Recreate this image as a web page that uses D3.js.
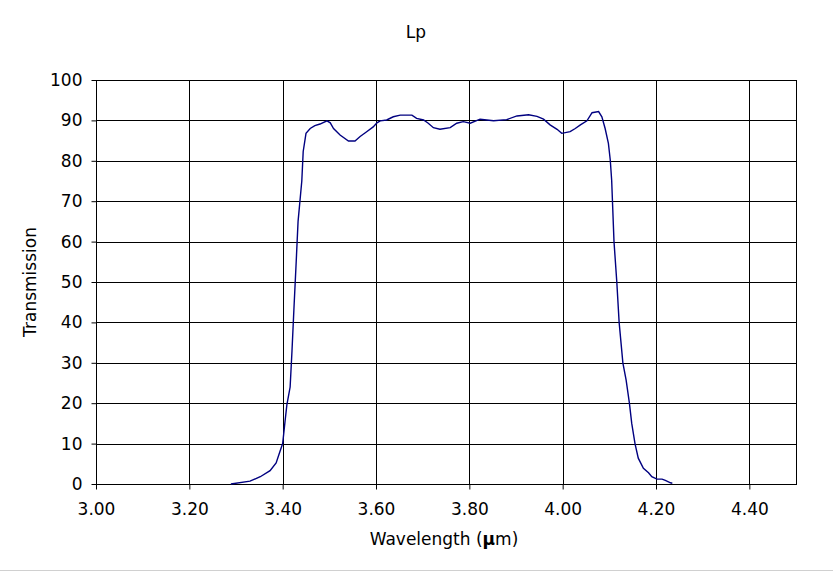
<!DOCTYPE html>
<html>
<head>
<meta charset="utf-8">
<script src="https://cdn.jsdelivr.net/npm/d3@7"></script>
<style>
  body { margin: 0; background: #fff; }
  text { font-family: "DejaVu Sans", Verdana, sans-serif; fill: #000; }
</style>
</head>
<body>
<svg id="chart"></svg>
<script>
// wavelength (um) and transmission (%)
const wavelength = [
  3.289, 3.330, 3.352, 3.373, 3.386, 3.394, 3.400, 3.405, 3.409, 3.416,
  3.420, 3.424, 3.429, 3.433, 3.441, 3.444, 3.450, 3.459, 3.469, 3.480,
  3.495, 3.502, 3.509, 3.523, 3.541, 3.555, 3.566, 3.580, 3.594, 3.602,
  3.609, 3.623, 3.637, 3.652, 3.677, 3.687, 3.702, 3.712, 3.723, 3.737,
  3.759, 3.773, 3.787, 3.802, 3.823, 3.852, 3.880, 3.902, 3.927, 3.945,
  3.959, 3.973, 3.988, 3.998, 4.016, 4.027, 4.038, 4.052, 4.063, 4.077,
  4.084, 4.091, 4.098, 4.102, 4.105, 4.110, 4.116, 4.121, 4.129, 4.136,
  4.143, 4.148, 4.155, 4.162, 4.173, 4.184, 4.191, 4.202, 4.213, 4.220,
  4.231, 4.235
]
const transmission = [
  0.0, 0.7, 1.8, 3.3, 5.2, 8.0, 10.0, 15.4, 19.6, 24.0,
  33.0, 43.0, 55.0, 65.0, 75.0, 82.3, 86.8, 88.0, 88.7, 89.1,
  89.9, 89.4, 88.0, 86.4, 84.9, 84.9, 86.0, 87.2, 88.4, 89.4,
  89.9, 90.1, 90.9, 91.3, 91.3, 90.5, 90.1, 89.3, 88.2, 87.8,
  88.2, 89.3, 89.7, 89.3, 90.3, 89.9, 90.2, 91.1, 91.4, 91.0,
  90.3, 88.9, 87.8, 86.8, 87.2, 88.0, 88.9, 89.9, 91.9, 92.2,
  90.9, 88.0, 84.3, 80.2, 75.2, 60.0, 50.0, 40.0, 30.0, 25.7,
  20.0, 15.0, 10.0, 6.4, 3.9, 2.8, 1.8, 1.2, 1.2, 0.9,
  0.3, 0.2
]
const xTicks = [3.0, 3.2, 3.4, 3.6, 3.8, 4.0, 4.2, 4.4]
const yTicks = [0, 10, 20, 30, 40, 50, 60, 70, 80, 90, 100]

const width = 833, height = 571
const margin = {left: 96, top: 80, right: 37, bottom: 87}
const fontSize = '17px'

const svg = d3.select('#chart')
    .attr('width', width)
    .attr('height', height)

const x = d3.scaleLinear()
    .domain([3.0, 4.5])
    .range([margin.left, width - margin.right])
const y = d3.scaleLinear()
    .domain([0, 100])
    .range([height - margin.bottom, margin.top])

// grid
svg.append('g')
    .selectAll('line')
    .data(xTicks.slice(1))
    .join('line')
    .attr('x1', d => Math.round(x(d)) + 0.5)
    .attr('x2', d => Math.round(x(d)) + 0.5)
    .attr('y1', y(0))
    .attr('y2', y(100))
    .attr('stroke', '#000')
svg.append('g')
    .selectAll('line')
    .data(yTicks.slice(1))
    .join('line')
    .attr('x1', x(3.0))
    .attr('x2', x(4.5))
    .attr('y1', d => Math.round(y(d)) + 0.5)
    .attr('y2', d => Math.round(y(d)) + 0.5)
    .attr('stroke', '#000')

svg.append('rect')
    .attr('x', Math.round(x(3.0)) + 0.5)
    .attr('y', Math.round(y(100)) + 0.5)
    .attr('width', Math.round(x(4.5)) - Math.round(x(3.0)))
    .attr('height', Math.round(y(0)) - Math.round(y(100)))
    .attr('fill', 'none')
    .attr('stroke', '#000')

// axes
const xAxis = svg.append('g')
    .attr('transform', 'translate(0,' + (Math.round(y(0)) + 0.5) + ')')
    .call(d3.axisBottom(x).tickValues(xTicks).tickFormat(d3.format('.2f')).tickSize(5).tickSizeOuter(0))
xAxis.select('.domain').remove()
xAxis.selectAll('text').style('font-size', fontSize).attr('dy', '0').attr('y', 30)

const yAxis = svg.append('g')
    .attr('transform', 'translate(' + (Math.round(x(3.0)) + 0.5) + ',0)')
    .call(d3.axisLeft(y).tickValues(yTicks).tickSize(5).tickSizeOuter(0))
yAxis.select('.domain').remove()
yAxis.selectAll('text').style('font-size', fontSize).attr('x', -14)

// curve
const pts = wavelength.map((w, i) => [w, transmission[i]])
svg.append('path')
    .datum(pts)
    .attr('fill', 'none')
    .attr('stroke', '#000080')
    .attr('stroke-width', 1.4)
    .attr('d', d3.line().x(d => x(d[0])).y(d => y(d[1])))

// titles
svg.append('text')
    .attr('x', 416)
    .attr('y', 38)
    .attr('text-anchor', 'middle')
    .style('font-size', fontSize)
    .text('Lp')

const xl = svg.append('text')
    .attr('x', 444)
    .attr('y', 545)
    .attr('text-anchor', 'middle')
    .style('font-size', fontSize)
xl.append('tspan').text('Wavelength (')
xl.append('tspan').style('font-weight', 'bold').text('µ')
xl.append('tspan').text('m)')

svg.append('text')
    .attr('transform', 'translate(36,' + 282 + ') rotate(-90)')
    .attr('text-anchor', 'middle')
    .style('font-size', fontSize)
    .text('Transmission')

svg.append('line')
    .attr('x1', 0)
    .attr('x2', width)
    .attr('y1', height - 0.5)
    .attr('y2', height - 0.5)
    .attr('stroke', '#d0d0d0')
</script>
</body>
</html>
